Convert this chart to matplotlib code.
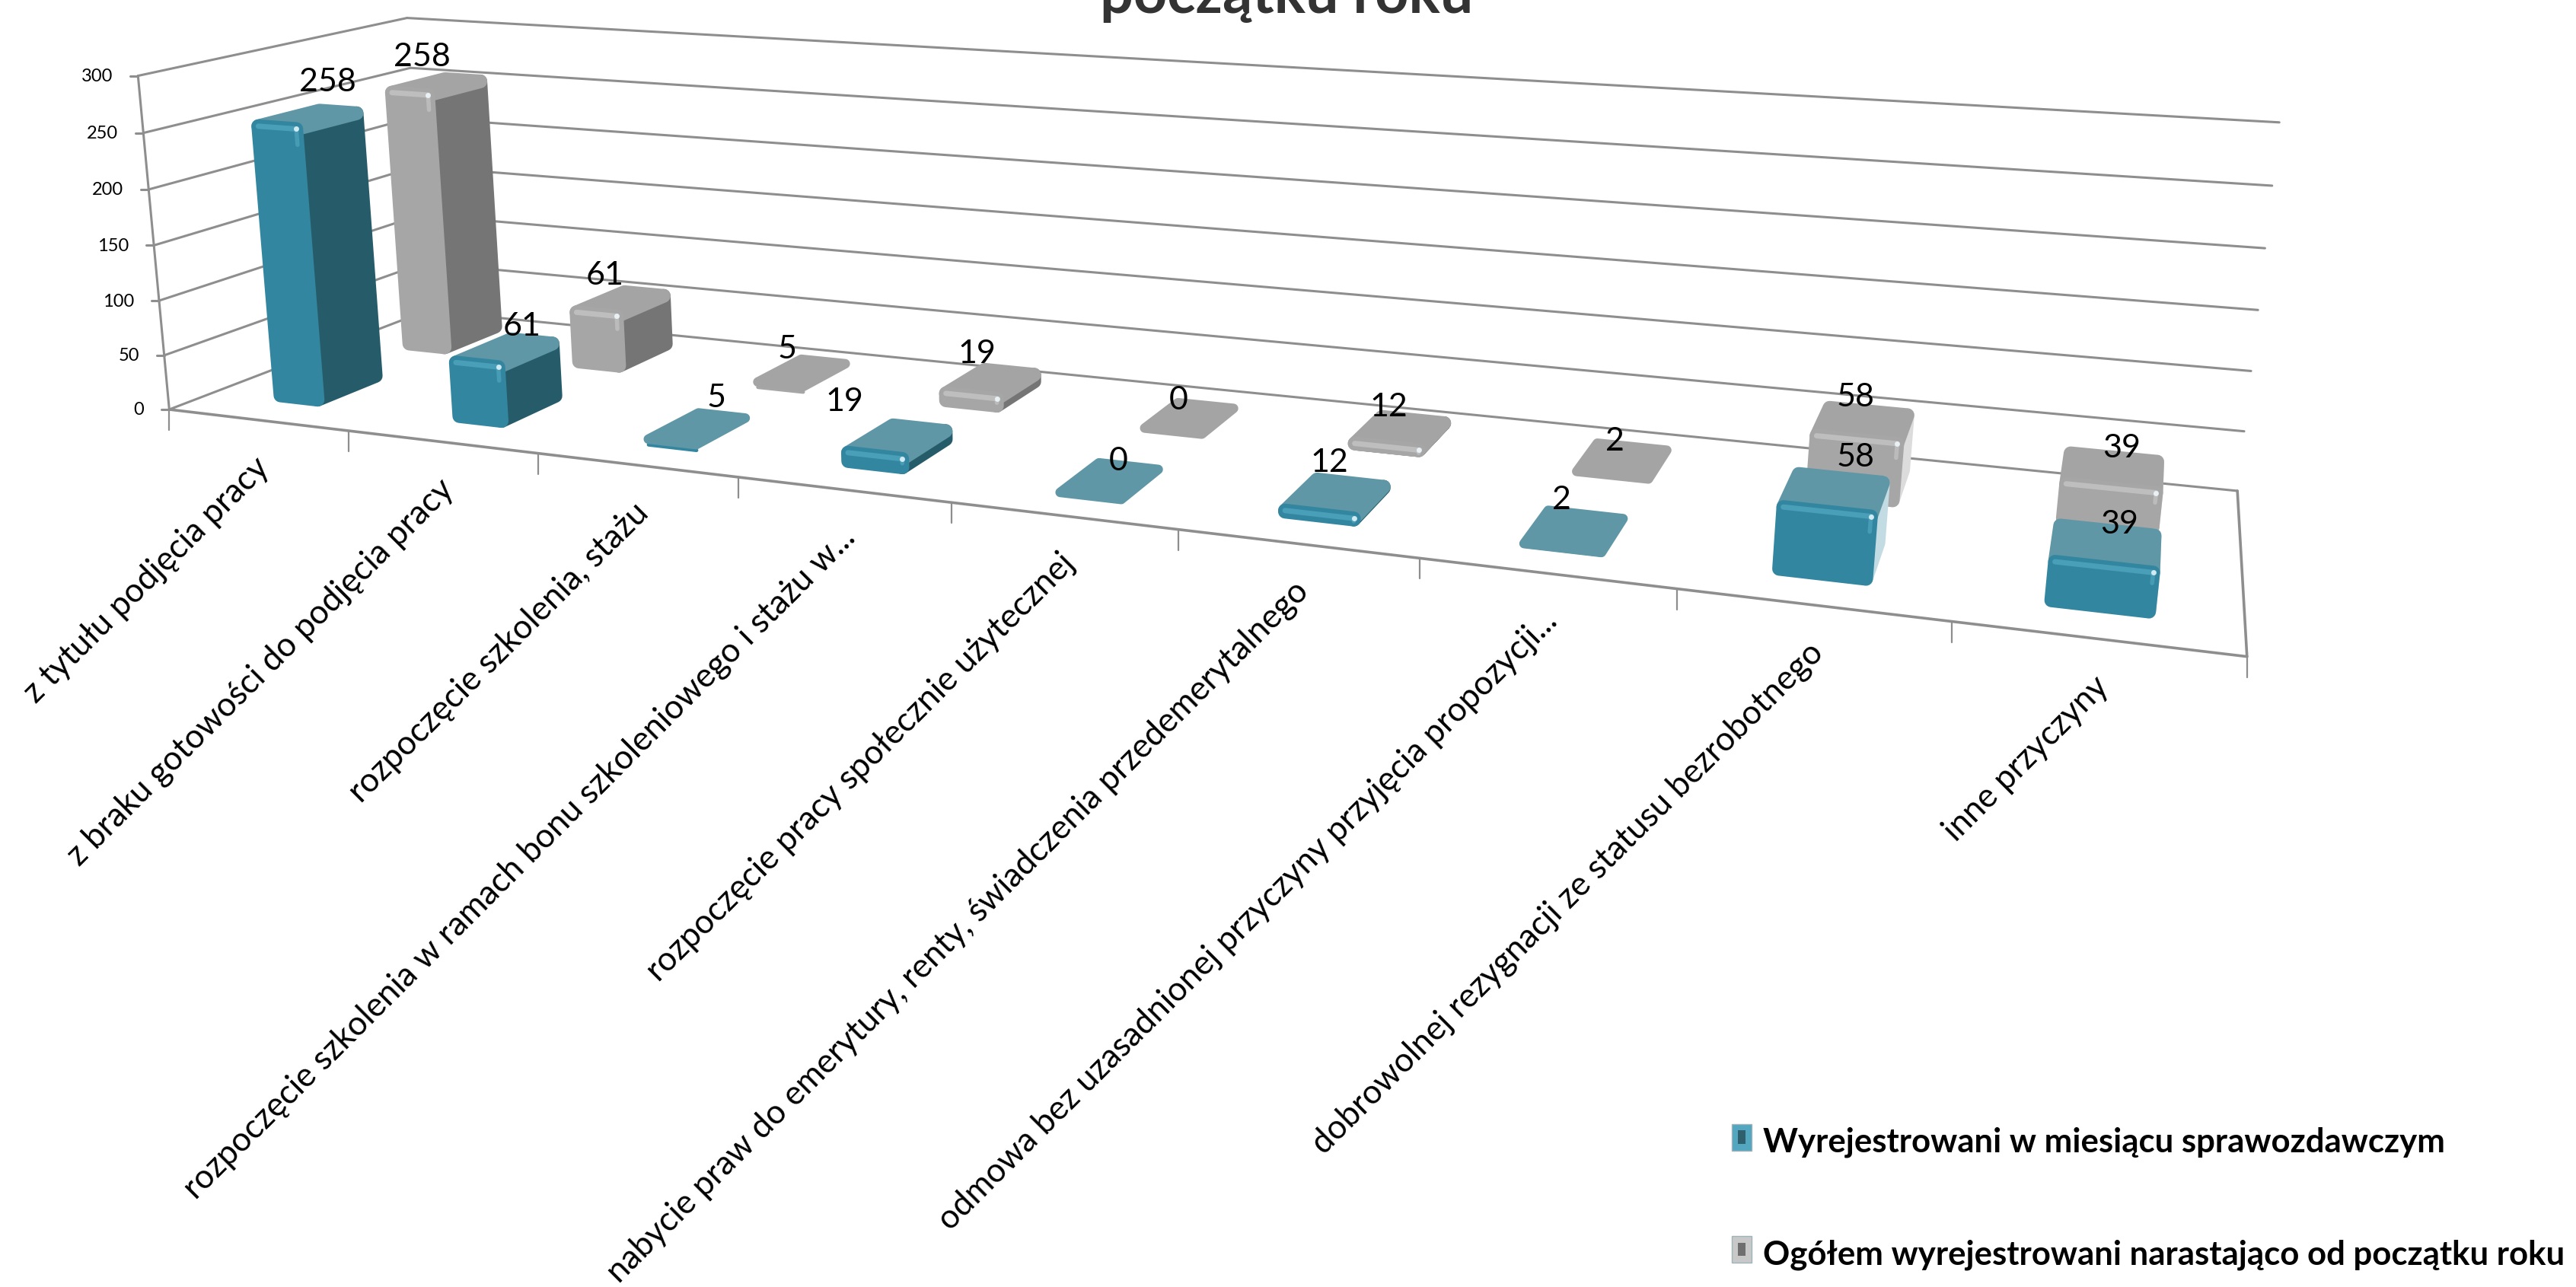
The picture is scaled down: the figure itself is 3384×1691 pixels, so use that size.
import numpy as np
import matplotlib
matplotlib.use("Agg")
import matplotlib.pyplot as plt
from matplotlib.patches import Polygon, Rectangle, Patch
from matplotlib.legend_handler import HandlerBase

plt.rcParams['font.family'] = ['Lato', 'DejaVu Sans']

categories = ["z tytułu podjęcia pracy",
              "z braku gotowości do podjęcia pracy",
              "rozpoczęcie szkolenia, stażu",
              "rozpoczęcie szkolenia w ramach bonu szkoleniowego i stażu w...",
              "rozpoczęcie pracy społecznie użytecznej",
              "nabycie praw do emerytury, renty, świadczenia przedemerytalnego",
              "odmowa bez uzasadnionej przyczyny przyjęcia propozycji...",
              "dobrowolnej rezygnacji ze statusu bezrobotnego",
              "inne przyczyny"]
month_values = [258, 61, 5, 19, 0, 12, 2, 58, 39]
total_values = [258, 61, 5, 19, 0, 12, 2, 58, 39]
month_name = "Wyrejestrowani w miesiącu sprawozdawczym"
total_name = "Ogółem wyrejestrowani narastająco od początku roku"
value_ticks = [0, 50, 100, 150, 200, 250, 300]
title_text = "początku roku"

# data label nudges, excel put them a bit off centre
month_label_dx = [30, 26, 28, -67, 13, -6, -15, 28, 17]
month_label_dy = [-6, 9, -6, -9, 9, -4, -6, -6, 11]
total_label_dx = [-15, -17, -17, -15, -13, -13, -9, -9, 11]
total_label_dy = [4, 6, 4, 4, 11, 9, 9, 6, 11]

W, H = 3384, 1691
TEAL = dict(front='#33869f', top='#5f97a6', side='#265c6a', light='#c3dbe3', hi='#74cfe6')
GRAY = dict(front='#a6a6a6', top='#a4a4a4', side='#757575', light='#dcdcdc', hi='#ececec')

# perspective of the excel 3d chart: (category, depth, value) -> pixel
calib = [(0, 0, 0, 230, 537), (0, 1, 0, 553, 410), (9, 1, 0, 2941, 641), (9, 0, 0, 2951, 866),
         (0, 0, 300, 174, 98), (0, 1, 300, 542, 24), (9, 1, 300, 2993, 162)]
A, b = [], []
for u, d, v, x, y in calib:
    A.append([u, d, v, 1, 0, 0, 0, 0, -x*u, -x*d, -x*v])
    b.append(x)
    A.append([0, 0, 0, 0, u, d, v, 1, -y*u, -y*d, -y*v])
    b.append(y)
P = np.append(np.linalg.lstsq(np.array(A, float), np.array(b, float), rcond=None)[0], 1.0).reshape(3, 4)


def project(u, d, v):
    p = P @ np.array([u, d, v, 1.0])
    return p[0]/p[2], p[1]/p[2]


fig = plt.figure(figsize=(W/100, H/100), dpi=100)
ax = fig.add_axes([0, 0, 1, 1])
ax.set_xlim(0, W)
ax.set_ylim(H, 0)
ax.axis('off')

GRID = '#8e8e8e'


def line(p0, p1, lw=2.2, color=GRID, z=1, alpha=1):
    ax.plot([p0[0], p1[0]], [p0[1], p1[1]], color=color, lw=lw, zorder=z, alpha=alpha,
            solid_capstyle='round')


# walls and floor
for t in value_ticks:
    line(project(0, 0, t), project(0, 1, t))
    line(project(0, 1, t), project(9, 1, t))
    x, y = project(0, 0, t)
    line((x, y), (x-10, y))
    ax.text(x-33, y+1, str(t), ha='right', va='center', fontsize=17, color='black')
line(project(0, 0, 0), project(0, 0, 300))
line(project(0, 0, 0), project(9, 0, 0), lw=2.6)
line(project(9, 0, 0), project(9, 1, 0), lw=2.6)
for i in range(len(categories)+1):
    x, y = project(i, 0, 0)
    line((x, y), (x, y+27), lw=1.6)
for i, name in enumerate(categories):
    x, y = project(i+0.5, 0, 0)
    ax.text(x-6, y+42, name, rotation=45, rotation_mode='anchor', ha='right', va='top',
            fontsize=31.5, color='black', clip_on=True)


def bar(i, d0, d1, val, col, z):
    # bars on the left come out a bit narrower than the right ones
    u0 = i + 0.33 + 0.08*(8-i)/8
    u1 = i + 0.67 - 0.05*(8-i)/8
    um = (u0+u1)/2
    ppu = (project(um, d0, 0)[1]-project(um, d0, 100)[1])/100
    if val >= 10:
        lw = 13
        rv = 9/ppu
        base, top = rv, val-rv
    else:
        lw = 9
        base, top = 0, val
    fl, fr = project(u0, d0, base), project(u1, d0, base)
    br, bl = project(u1, d1, base), project(u0, d1, base)
    tfl, tfr = project(u0, d0, top), project(u1, d0, top)
    tbr, tbl = project(u1, d1, top), project(u0, d1, top)
    side = col['light'] if i >= 7 else col['side']
    if val >= 10:
        ax.add_patch(Polygon([fr, br, tbr, tfr], fc=side, ec=side, lw=lw, joinstyle='round', zorder=z))
    ax.add_patch(Polygon([tfl, tfr, tbr, tbl], fc=col['top'], ec=col['top'], lw=lw, joinstyle='round', zorder=z+.1))
    if val >= 10:
        # front face, stroked so the corners come out rounded
        ax.add_patch(Polygon([fl, fr, tfr, tfl], fc=col['front'], ec=col['front'], lw=lw, joinstyle='round', zorder=z+.2))
        line(tfl, tfr, lw=5, color=col['hi'], z=z+.3, alpha=.35)
        down = top - min(val*0.2, 14)
        line(tfr, project(u1, d0, down), lw=4, color=col['hi'], z=z+.3, alpha=.3)
        ax.plot(*tfr, 'o', ms=5, color='#f2fbff', alpha=.8, mew=0, zorder=z+.4)
    elif val > 0:
        # thin tiles only show a sliver of the front
        line(project(u0, d0, 0), project(u1, d0, 0), lw=3.5, color=col['front'], z=z+.05)


for i, val in enumerate(total_values):
    bar(i, 0.64, 0.86, val, GRAY, 3+i*.01)
for i, val in enumerate(month_values):
    bar(i, 0.14, 0.36, val, TEAL, 5+i*.01)

for series, d, dxs, dys in ((month_values, 0.25, month_label_dx, month_label_dy),
                            (total_values, 0.75, total_label_dx, total_label_dy)):
    for i, val in enumerate(series):
        x, y = project(i+0.5, d, val)
        ax.text(x+dxs[i], y-34+dys[i], str(val), ha='center', va='center', fontsize=31, color='black', zorder=9)

ax.text(1690, 17, title_text, ha='center', va='baseline', fontsize=55.5, fontweight='bold',
        color='#333333', zorder=9)


class BevelHandler(HandlerBase):
    def create_artists(self, legend, orig, xd, yd, width, height, fontsize, trans):
        outer = Rectangle((xd, yd), width, height, fc=orig.get_facecolor(), ec='#9fb4ba', lw=1, transform=trans)
        inner = Rectangle((xd+width*.3, yd+height*.25), width*.4, height*.5, fc=orig.get_edgecolor(), lw=0, transform=trans)
        return [outer, inner]


handles = [Patch(fc='#52a6bf', ec='#2f5f6d', label=month_name), Patch(fc='#c8c8c8', ec='#6f6f6f', label=total_name)]
ax.legend(handles=handles, handler_map={Patch: BevelHandler()}, frameon=False, loc='lower left',
          bbox_to_anchor=(2275/W, 1-1669/H), prop=dict(size=31.5, weight='bold'), labelspacing=2.45,
          handlelength=0.6, handleheight=0.85, handletextpad=0.33, borderpad=0, borderaxespad=0)

fig.savefig('out.png', dpi=100)
